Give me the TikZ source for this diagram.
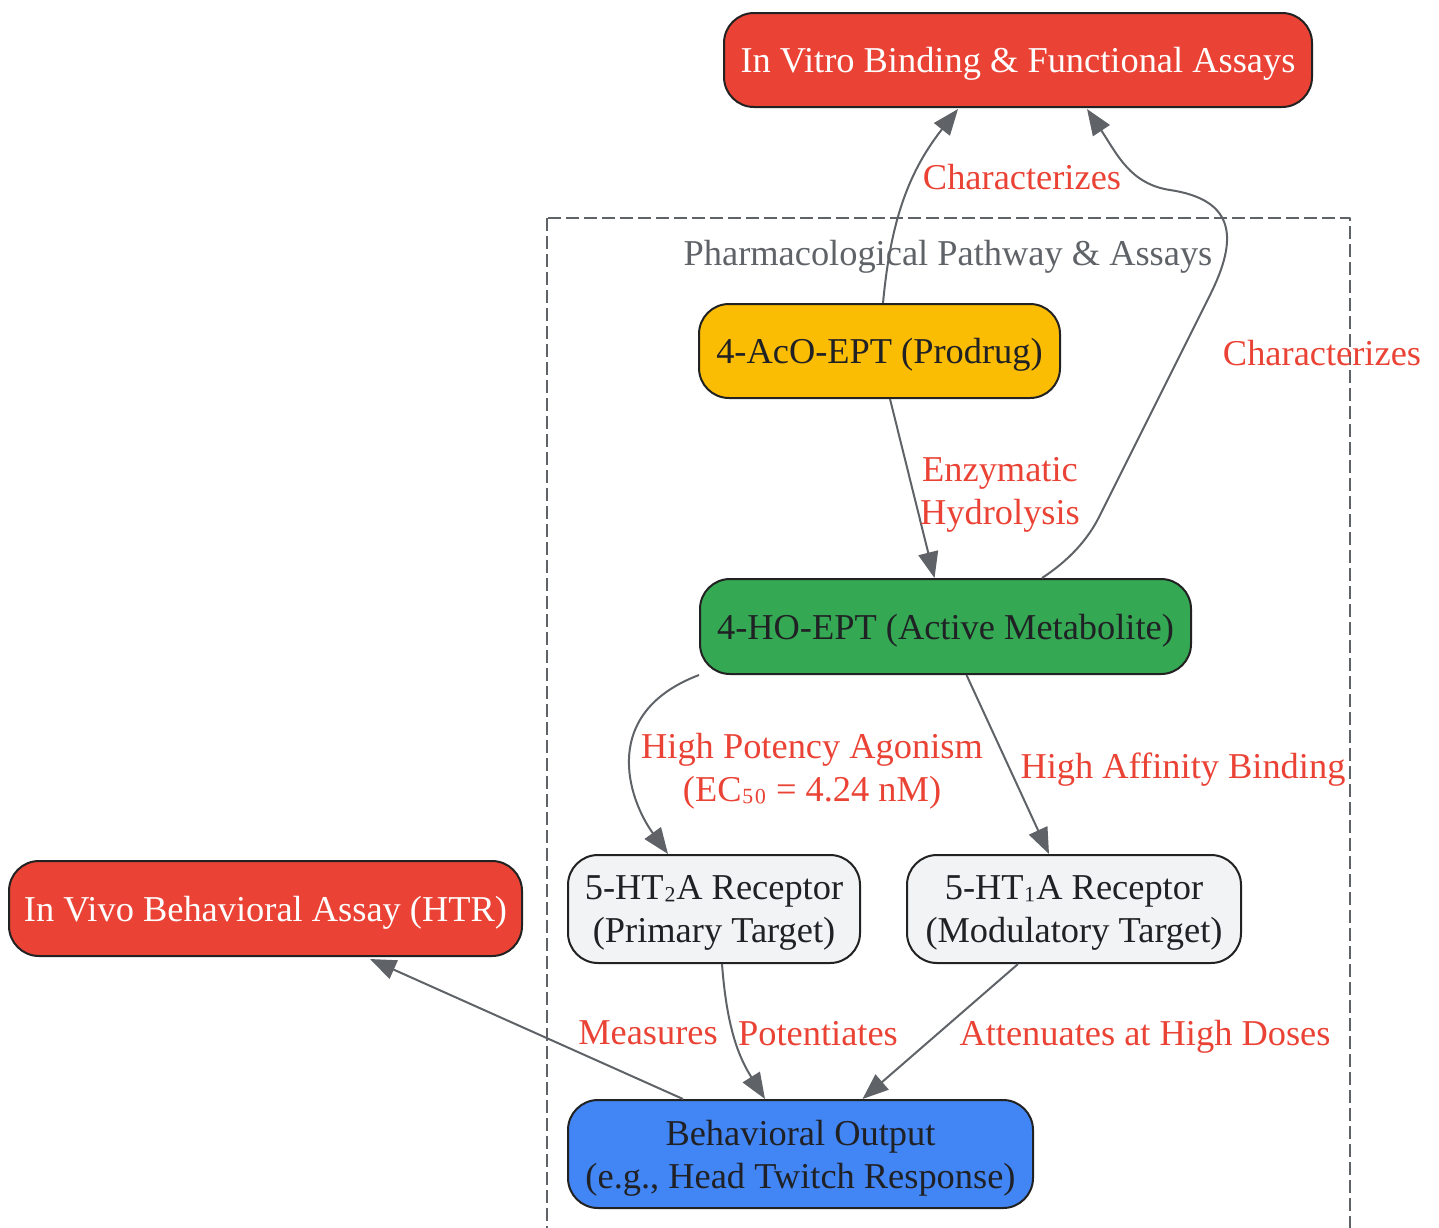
\documentclass[tikz,border=0pt]{standalone}
\usepackage{fontspec}
\setmainfont{Liberation Serif}
\usepackage{xcolor}
\usetikzlibrary{arrows.meta,calc}
\definecolor{redbox}{HTML}{EA4335}
\definecolor{yellowbox}{HTML}{FBBC04}
\definecolor{greenbox}{HTML}{34A853}
\definecolor{bluebox}{HTML}{4285F4}
\definecolor{greybox}{HTML}{F1F3F4}
\definecolor{edgegrey}{HTML}{5F6368}
\definecolor{labelred}{HTML}{EA4335}
\definecolor{textdark}{HTML}{202124}
\definecolor{boxline}{HTML}{222222}
\newcommand{\nodefont}{\fontsize{18.2}{21.5}\selectfont}
\newcommand{\subfix}[1]{\raisebox{2.5pt}{#1}}

\begin{document}
\begin{tikzpicture}[line join=round,>={Triangle[length=13pt,width=10pt]},x=0.5pt,y=-0.5pt,
    box/.style={draw=boxline,line width=1pt,rounded corners=15pt,inner sep=0pt,align=center,font=\nodefont,text=textdark,text depth=0pt},
    lbl/.style={text=labelred,align=center,font=\nodefont,inner sep=0pt,text depth=0pt},
    link/.style={->,draw=edgegrey,fill=none,line width=1pt}]
                \useasboundingbox (0,0) rectangle (1439,1227);
                % cluster
                \draw [edgegrey,line width=1.1pt,dash pattern=on 6.5pt off 2.5pt] (547,218) rectangle (1350,1240);
                \node [text=edgegrey,font=\nodefont,inner sep=0pt,text depth=0pt] (pathway) at (948,253) {Pharmacological Pathway \& Assays};
                % boxes
                \node [box,fill=redbox,text=white,minimum width=294pt,minimum height=47pt] (vitro) at (1018,60) {In Vitro Binding \& Functional Assays};
                \node [box,fill=yellowbox,minimum width=180.5pt,minimum height=47pt] (prodrug) at (879.5,351) {4-AcO-EPT (Prodrug)};
                \node [box,fill=greenbox,minimum width=245.5pt,minimum height=47.5pt] (active) at (945.5,626.5) {4-HO-EPT (Active Metabolite)};
                \node [box,fill=greybox,minimum width=146pt,minimum height=54pt] (htA) at (714,909) {5-HT\subfix{₂}A Receptor\\(Primary Target)};
                \node [box,fill=greybox,minimum width=167pt,minimum height=54pt] (htB) at (1074,909) {5-HT\subfix{₁}A Receptor\\(Modulatory Target)};
                \node [box,fill=bluebox,minimum width=232.5pt,minimum height=54pt] (behav) at (800.5,1154) {Behavioral Output\\(e.g., Head Twitch Response)};
                \node [box,fill=redbox,text=white,minimum width=256.5pt,minimum height=47.5pt] (vivo) at (265.5,908.5) {In Vivo Behavioral Assay (HTR)};
                % connectors
                \draw [link] ($(prodrug.north)+(3.5,0)$) .. controls +(7,-74) and +(-53,67) .. ($(vitro.south)+(-60,1)$);
                \draw [link] ($(active.north)+(96.5,0)$) .. controls +(26,-17) and +(-12,25) .. (1100,515) -- (1210,295)
                    .. controls +(28,-56) and +(66,10) .. (1170,190) .. controls +(-40,-6) and +(30,45) .. ($(vitro.south)+(69,1)$);
                \draw [link] ($(prodrug.south)+(10.5,0)$) -- ($(active.north)+(-11,0)$);
                \draw [link] (active.south west) .. controls +(-100,38) and +(-40,-55) .. ($(htA.north)+(-46,0)$);
                \draw [link] ($(active.south)+(21,0)$) -- ($(htB.north)+(-25,0)$);
                \draw [link] ($(htA.south)+(8,0)$) .. controls +(5,67) and +(-25,-40) .. ($(behav.north)+(-35.5,0)$);
                \draw [link] ($(htB.south)+(-56,0)$) -- ($(behav.north)+(62,0)$);
                \draw [link] ($(behav.north)+(-117.5,0)$) -- ($(vivo.south)+(104.5,2)$);
                % labels
                \node [lbl] (charA) at (1022,177) {Characterizes};
                \node [lbl] (charB) at (1322,353) {Characterizes};
                \node [lbl] (hydro) at (1000,491) {Enzymatic\\Hydrolysis};
                \node [lbl] (agon) at (812,767) {High Potency Agonism\\(EC\subfix{₅₀} = 4.24 nM)};
                \node [lbl] (affin) at (1183,766) {High Affinity Binding};
                \node [lbl] (meas) at (648,1033) {Measures};
                \node [lbl] (poten) at (818,1033) {Potentiates};
                \node [lbl] (atten) at (1145,1033) {Attenuates at High Doses};
            \end{tikzpicture}
\end{document}
